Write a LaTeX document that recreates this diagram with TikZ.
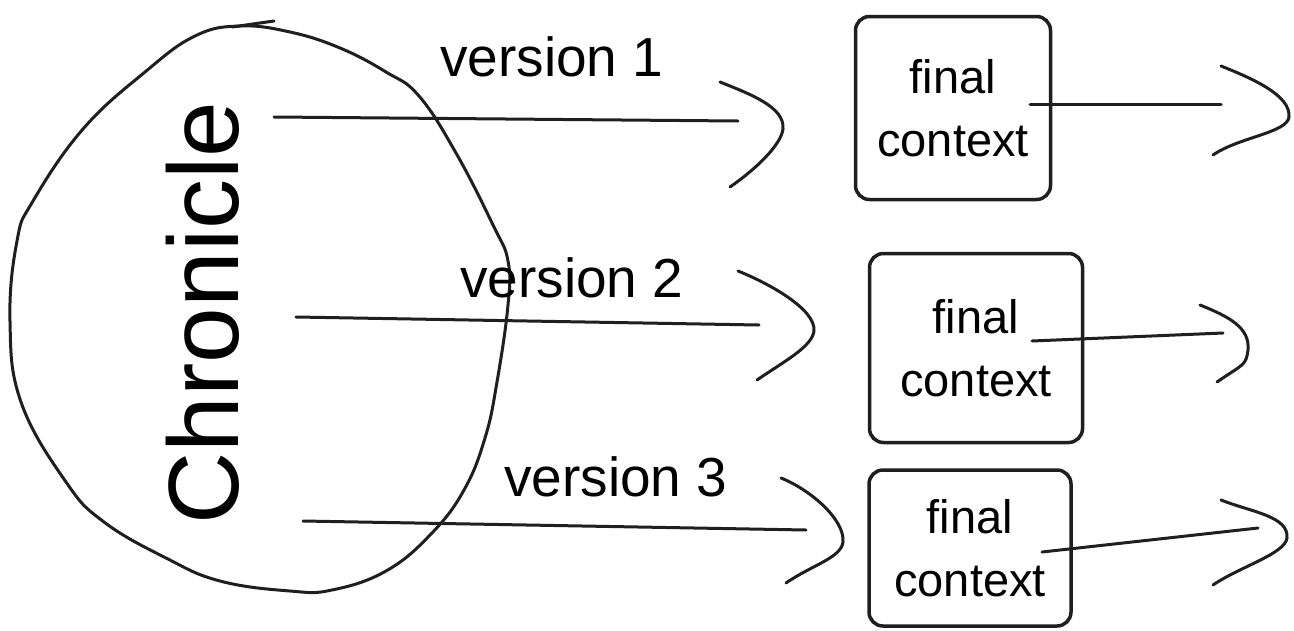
\documentclass[tikz,border=0pt]{standalone}
\usepackage{fontspec}
\setmainfont{Liberation Sans}
\usepackage{tikz}

% open hand-drawn arrow head: tip, upper end, lower end
\newcommand{\barb}[3]{\draw[sketch] (#1) ++(#2) .. controls +(30,12) and +(2,-22) .. (#1) .. controls +(-2,16) and +(26,-18) .. ++(#3);}

\begin{document}
\begin{tikzpicture}[x=1pt,y=-1pt,
  sketch/.style={draw=black!88,line width=3pt,line cap=round,line join=round},
  box/.style={draw=black!88,line width=3.5pt,rounded corners=14pt,align=center,inner sep=0pt,font=\fontsize{47}{63}\selectfont},
  lbl/.style={anchor=base west,inner sep=0pt,font=\fontsize{55}{66}\selectfont}]
\useasboundingbox[fill=white] (0,0) rectangle (1294,630);

% the chronicle
\draw[sketch] plot[smooth cycle,tension=0.7] coordinates {(240,26) (290,32) (340,48) (386,72) (419,96) (456,153) (493,225) (508,261) (508,305) (497,382) (485,438) (464,490) (431,534) (386,571) (332,590) (290,591) (220,581) (166,558) (104,522) (66,482) (21,402) (10,321) (17,241) (33,201) (83,129) (145,72) (195,36)};
\draw[sketch] (232,27) -- (274,21);
\node[rotate=90,font=\fontsize{100}{120}\selectfont] (chron) at (203,313) {Chronicle};

% versions
\node[lbl] (v1) at (440,76) {version 1};
\node[lbl] (v2) at (460,297) {version 2};
\node[lbl] (v3) at (504,496) {version 3};

\coordinate (s1) at (274,117);
\coordinate (e1) at (738,121);
\coordinate (h1) at (783,129);
\coordinate (s2) at (296,317);
\coordinate (e2) at (759,325);
\coordinate (h2) at (814,331);
\coordinate (s3) at (303,521);
\coordinate (e3) at (806,530);
\coordinate (h3) at (843,542);
\draw[sketch] (s1) -- (e1);
\draw[sketch] (s2) -- (e2);
\draw[sketch] (s3) -- (e3);
\barb{h1}{-63,-47}{-53,58}
\barb{h2}{-76,-60}{-57,49}
\barb{h3}{-62,-64}{-57,41}

% final contexts
\node[box,minimum width=195pt,minimum height=183pt] (fc1) at (953,108) {final\\context};
\node[box,minimum width=213pt,minimum height=189pt] (fc2) at (976,348) {final\\context};
\node[box,minimum width=202pt,minimum height=156pt] (fc3) at (970,548) {final\\context};

\coordinate (o1) at (1030,104);
\coordinate (f1) at (1221,104);
\coordinate (g1) at (1289,117);
\coordinate (o2) at (1032,341);
\coordinate (f2) at (1223,333);
\coordinate (g2) at (1248,350);
\coordinate (o3) at (1042,552);
\coordinate (f3) at (1258,528);
\coordinate (g3) at (1287,538);
\draw[sketch] (o1) -- (f1);
\draw[sketch] (o2) -- (f2);
\draw[sketch] (o3) -- (f3);
\barb{g1}{-68,-51}{-76,38}
\barb{g2}{-48,-45}{-31,32}
\barb{g3}{-66,-38}{-74,47}
\end{tikzpicture}
\end{document}
